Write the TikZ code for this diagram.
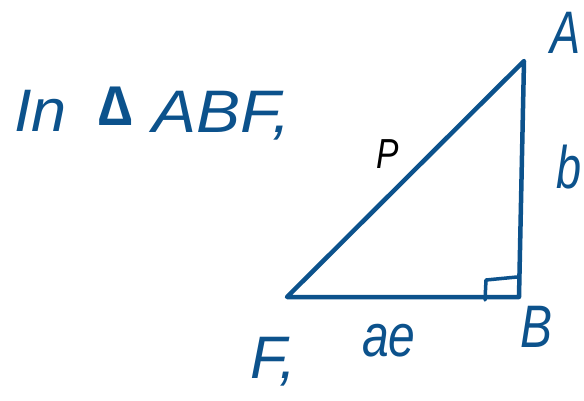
\documentclass[tikz,border=0pt]{standalone}
\usepackage{fontspec}
\setmainfont{Liberation Sans}
\definecolor{ink}{RGB}{12,82,140}
\begin{document}
\begin{tikzpicture}[x=1pt,y=-1pt,
  lbl/.style={text=ink,inner sep=0pt,font=\fontsize{60}{60}\selectfont\itshape},
  side/.style={draw=ink,line width=4.5pt,line cap=round,line join=round}]
\useasboundingbox[fill=white] (0,0) rectangle (584,401);
\coordinate (A) at (524,61);
\coordinate (B) at (519,297);
\coordinate (F) at (287,297);
\coordinate (r1) at (485,300);
\coordinate (r2) at (486,280);
\coordinate (r3) at (517,277);
\draw[side] (F) -- (A) -- (B) -- cycle;
\draw[side,line width=3.5pt] (r1) -- (r2) -- (r3);
\node[lbl,anchor=base west,xscale=1.05] (t1) at (14,132) {In};
\node[lbl,anchor=base west,font=\fontsize{56}{56}\selectfont\bfseries] (t2) at (98,126) {∆};
\node[lbl,anchor=base west,xscale=1.1] (t3) at (152,133) {ABF,};
\node[lbl,anchor=base,text=black,font=\fontsize{42}{42}\selectfont\itshape,xscale=0.8] (lp) at (388,168) {P};
\node[lbl,anchor=base west,xscale=0.75] (la) at (550,54) {A};
\node[lbl,anchor=base west,xscale=0.75] (lb) at (556,189) {b};
\node[lbl,anchor=base west,xscale=0.8] (lB) at (520,347) {B};
\node[lbl,anchor=base west,xscale=1.0] (lf) at (250,378) {F,};
\node[lbl,anchor=base west,xscale=0.8] (lae) at (362,356) {ae};
\end{tikzpicture}
\end{document}
